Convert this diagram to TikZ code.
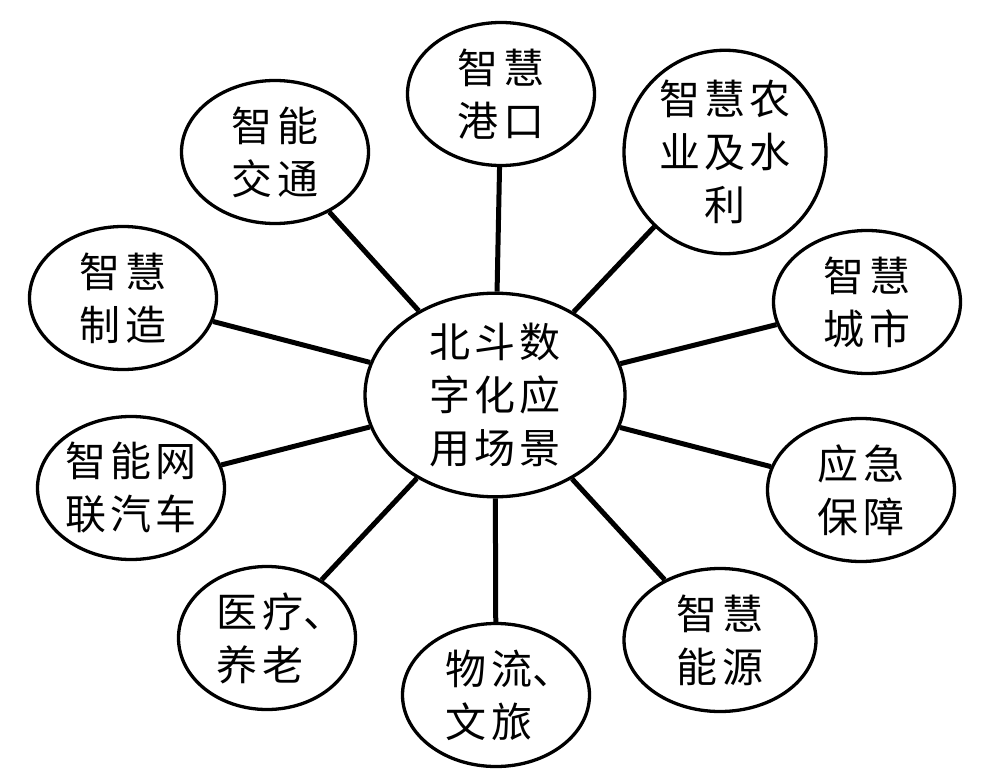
\documentclass[tikz,border=0pt]{standalone}
\usepackage{fontspec}
\setmainfont{Noto Sans CJK SC}[LetterSpace=10]
\usetikzlibrary{shapes.geometric}
\newcommand{\dunhao}{\makebox[14pt][l]{、}}
\begin{document}
\begin{tikzpicture}[x=1pt,y=-1pt]
\tikzstyle{every node}+=[inner sep=0pt, align=center, font=\fontsize{41}{53}\selectfont]
\tikzstyle{bubble}=[draw=black, ellipse, line width=3.3pt, minimum width=187pt, minimum height=143pt]
\tikzstyle{spoke}=[black, line width=5pt]
\useasboundingbox (0,0) rectangle (988,779);

% centre
\node [bubble, minimum width=260pt, minimum height=201pt] (hub) at (495,395) {北斗数\\字化应\\用场景};

% scenes, clockwise from the top
\node [bubble] (port) at (501,94) {智慧\\港口};
\node [bubble, minimum width=202pt, minimum height=176pt] (farm) at (725,152) {智慧农\\业及水\\利};
\node [bubble] (city) at (867,302) {智慧\\城市};
\node [bubble] (rescue) at (861,490) {应急\\保障};
\node [bubble, minimum width=192pt] (energy) at (720,640) {智慧\\能源};
\node [bubble, align=left] (travel) at (496,695) {物流\dunhao\\文旅};
\node [bubble, minimum width=177pt, align=left] (care) at (267,638) {医疗\dunhao\\养老};
\node [bubble] (car) at (131,488) {智能网\\联汽车};
\node [bubble] (factory) at (123,298) {智慧\\制造};
\node [bubble] (traffic) at (275,152) {智能\\交通};

\foreach \s in {port,farm,city,rescue,energy,travel,care,car,factory,traffic}
  \draw [spoke] (hub) -- (\s);
\end{tikzpicture}
\end{document}
